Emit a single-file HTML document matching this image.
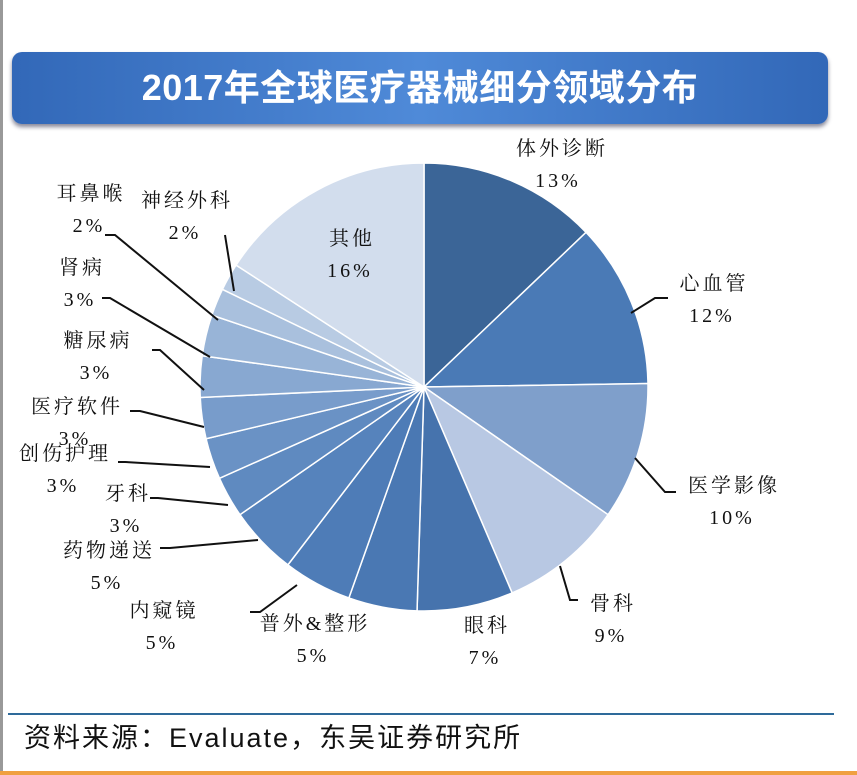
<!DOCTYPE html><html><head><meta charset="utf-8"><style>
body{margin:0;width:857px;height:775px;background:#fff;position:relative;overflow:hidden;font-family:"Liberation Sans","Noto Sans CJK SC",sans-serif}
.lb{position:absolute;left:0;top:0;width:3px;height:775px;background:#999}
.title{position:absolute;left:12px;top:52px;width:816px;height:72px;border-radius:10px;background:linear-gradient(90deg,#3268b8,#4f8ad8 50%,#3268b8);box-shadow:0 3px 4px #889;color:#fff;font-weight:bold;font-size:36px;text-align:center;line-height:72px;letter-spacing:0.5px}
.foot{position:absolute;left:8px;top:713px;width:826px;height:2px;background:#2e6a9a}
.src{position:absolute;left:24px;top:716px;font-size:27px;color:#111;letter-spacing:2px}
.or{position:absolute;left:0;top:771px;width:857px;height:4px;background:#f0a040}
</style></head><body>
<div class="lb"></div>
<div class="title">2017年全球医疗器械细分领域分布</div>
<svg id="s" width="857" height="775" style="position:absolute;left:0;top:0" font-family="Liberation Serif,Noto Serif CJK SC,serif" font-size="20" fill="#111">
<g id="p"></g>
<g stroke="#111" stroke-width="2" fill="none">
<polyline points="631,313 655,298 668,298"/>
<polyline points="635,458 665,492 676,492"/>
<polyline points="560,566 570,600 578,600"/>
<polyline points="297,585 260,612 250,612"/>
<polyline points="258,540 170,548 160,548"/>
<polyline points="228,505 158,498 150,498"/>
<polyline points="210,467 125,462 118,462"/>
<polyline points="204,427 140,411 130,411"/>
<polyline points="204,390 160,350 152,350"/>
<polyline points="210,357 110,298 102,298"/>
<polyline points="218,320 115,235 105,235"/>
<polyline points="234,291 225,235"/>
</g>
<g text-anchor="middle" letter-spacing="3">
<text x="562" y="155">体外诊断</text><text x="558" y="187">13%</text>
<text x="714" y="290">心血管</text><text x="712" y="322">12%</text>
<text x="734" y="492">医学影像</text><text x="732" y="524">10%</text>
<text x="613" y="610">骨科</text><text x="611" y="642">9%</text>
<text x="487" y="632">眼科</text><text x="485" y="664">7%</text>
<text x="315" y="630">普外&amp;整形</text><text x="313" y="662">5%</text>
<text x="164" y="617">内窥镜</text><text x="162" y="649">5%</text>
<text x="109" y="557">药物递送</text><text x="107" y="589">5%</text>
<text x="128" y="500">牙科</text><text x="126" y="532">3%</text>
<text x="65" y="460">创伤护理</text><text x="63" y="492">3%</text>
<text x="77" y="413">医疗软件</text><text x="75" y="445">3%</text>
<text x="98" y="347">糖尿病</text><text x="96" y="379">3%</text>
<text x="82" y="274">肾病</text><text x="80" y="306">3%</text>
<text x="91" y="200">耳鼻喉</text><text x="89" y="232">2%</text>
<text x="187" y="207">神经外科</text><text x="185" y="239">2%</text>
<text x="352" y="245">其他</text><text x="350" y="277">16%</text>
</g>
</svg>
<div class="foot"></div>
<div class="src">资料来源：Evaluate，东吴证券研究所</div>
<div class="or"></div>
<script>
var v=[13,12,10,9,7,5,5,5,3,3,3,3,3,2,2,16],c=["#3b6597","#4a7ab6","#7f9fcb","#b8c8e3","#4673ad","#4a78b3","#4e7cb7","#5683bc","#5f8ac0","#6a92c5","#789ccb","#88a8d1","#98b4d7","#a9c0dd","#b8cbe3","#d2dded"];
var cx=424,cy=387,r=224,t=v.reduce((a,b)=>a+b),a=0,h="";
v.forEach((x,i)=>{var a1=a+x/t*2*Math.PI;var p=(q)=>[cx+r*Math.sin(q),cy-r*Math.cos(q)];var s=p(a),e=p(a1);
h+='<path d="M'+cx+','+cy+'L'+s[0]+','+s[1]+'A'+r+','+r+' 0 '+(a1-a>Math.PI?1:0)+' 1 '+e[0]+','+e[1]+'Z" fill="'+c[i]+'" stroke="#fff" stroke-width="1.5"/>';a=a1;});
document.getElementById("p").innerHTML=h;
</script>
</body></html>
